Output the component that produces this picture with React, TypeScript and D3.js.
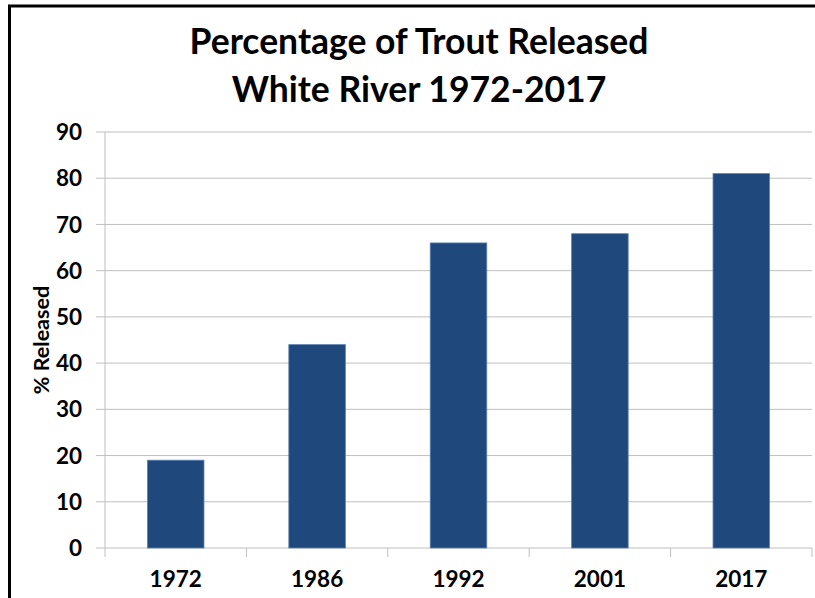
import React from 'react';
import * as d3 from 'd3';

const years = ['1972', '1986', '1992', '2001', '2017'];
const released = [19, 44, 66, 68, 81];
const yTicks = [0, 10, 20, 30, 40, 50, 60, 70, 80, 90];
const titleLines = ['Percentage of Trout Released', 'White River 1972-2017'];
const yLabel = '% Released';

const W = 815;
const H = 598;
const FONT = 'Lato, "Open Sans", sans-serif';

const App: React.FC = () => {
  const plot = { left: 105, right: 812, top: 132, bottom: 548 };

  const x = d3.scaleBand<string>()
    .domain(years)
    .range([plot.left, plot.right])
    .paddingInner(0.6)
    .paddingOuter(0.3);

  const y = d3.scaleLinear().domain([0, 90]).range([plot.bottom, plot.top]);

  const step = x.step();
  const boundaries = d3.range(years.length + 1).map(i => plot.left + i * step);

  return (
    <svg width={W} height={H} style={{ position: 'absolute', left: 0, top: 0 }}>
      <rect x={0} y={0} width={W} height={H} fill="#fff" />
      {/* chart frame, cropped at right and bottom */}
      <rect x={9.5} y={6} width={W + 20} height={H + 20} fill="none" stroke="#000" strokeWidth={3} />

      {titleLines.map((t, i) => (
        <text key={t} x={419} y={54 + i * 48} textAnchor="middle"
          fontFamily={FONT} fontWeight="bold" fontSize={35.5} fill="#000">{t}</text>
      ))}

      {/* gridlines + y ticks */}
      {yTicks.map(t => (
        <g key={t}>
          <line x1={plot.left - 9} x2={plot.right} y1={y(t)} y2={y(t)} stroke="#BFBFBF" strokeWidth={1} />
          <text x={82} y={y(t)} dy="0.36em" textAnchor="end"
            fontFamily={FONT} fontWeight="bold" fontSize={22.5} fill="#000">{t}</text>
        </g>
      ))}

      {/* axis line */}
      <line x1={plot.left} x2={plot.left} y1={plot.top} y2={plot.bottom} stroke="#BFBFBF" />
      {boundaries.map((b, i) => (
        <line key={i} x1={b} x2={b} y1={plot.bottom} y2={plot.bottom + 9} stroke="#BFBFBF" />
      ))}

      {/* bars */}
      {years.map((yr, i) => (
        <rect key={yr} x={x(yr)} y={y(released[i])} width={x.bandwidth()}
          height={y(0) - y(released[i])} fill="#1F497D" stroke="#5F82B5" strokeWidth={0.8} />
      ))}

      {/* x labels */}
      {years.map(yr => (
        <text key={yr} x={(x(yr) as number) + x.bandwidth() / 2} y={587} textAnchor="middle"
          fontFamily={FONT} fontWeight="bold" fontSize={22.5} fill="#000">{yr}</text>
      ))}

      <text transform={`translate(49,340) rotate(-90)`} textAnchor="middle"
        fontFamily={FONT} fontWeight="bold" fontSize={21.5} fill="#000">{yLabel}</text>
    </svg>
  );
};

export default App;
